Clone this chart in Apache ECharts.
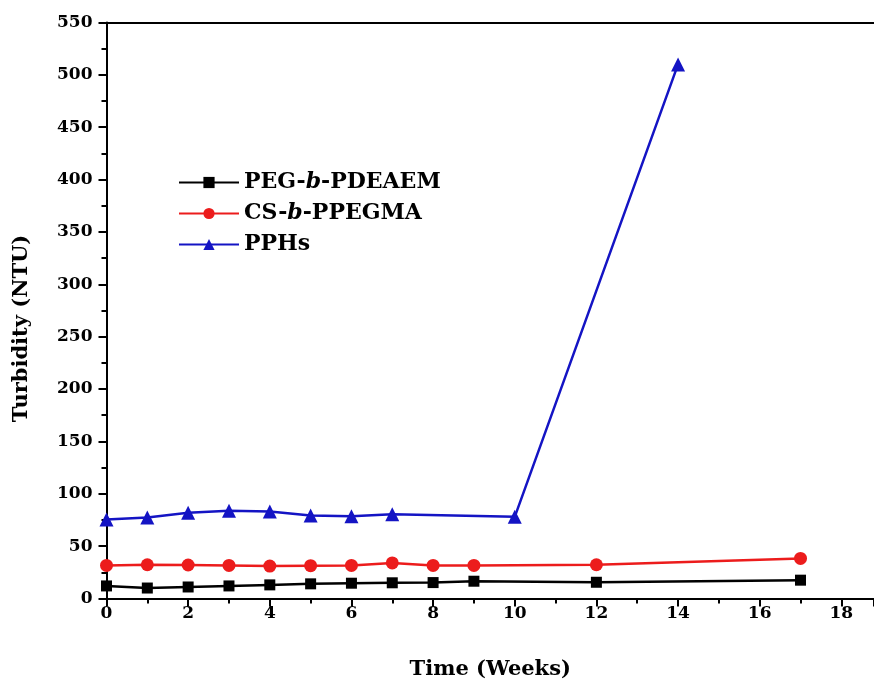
<!DOCTYPE html>
<html>
<head>
<meta charset="utf-8">
<script src="https://cdn.jsdelivr.net/npm/echarts@6/dist/echarts.min.js"></script>
<style>
  html, body { margin: 0; padding: 0; background: #fff; }
  #chart { width: 874px; height: 683px; }
</style>
</head>
<body>
<div id="chart"></div>
<script>
// Turbidity of three polymer formulations over storage time
const pegWeeks = [0, 1, 2, 3, 4, 5, 6, 7, 8, 9, 12, 17];
const pegTurbidity = [12, 10, 11, 12, 13, 14, 14.6, 15, 15.2, 16.5, 15.5, 17.5];

const csWeeks = [0, 1, 2, 3, 4, 5, 6, 7, 8, 9, 12, 17];
const csTurbidity = [31.6, 32.2, 32, 31.6, 31, 31.3, 31.6, 34, 31.6, 31.6, 32.2, 38.3];

const pphWeeks = [0, 1, 2, 3, 4, 5, 6, 7, 10, 14];
const pphTurbidity = [75.5, 77.4, 81.8, 83.7, 83, 79.3, 78.6, 80.5, 78, 510];

const seriesNames = ['PEG-b-PDEAEM', 'CS-b-PPEGMA', 'PPHs'];
const legendLabels = ['PEG-{i|b}-PDEAEM', 'CS-{i|b}-PPEGMA', 'PPHs'];
const xTitle = 'Time (Weeks)';
const yTitle = 'Turbidity (NTU)';

const FONT = 'DejaVu Serif';

function pairs(xs, ys) {
  return xs.map((x, i) => [x, ys[i]]);
}

const chart = echarts.init(document.getElementById('chart'));

const axisCommon = {
  axisLine: { show: true, onZero: false, lineStyle: { color: '#000', width: 2 } },
  axisTick: { show: true, inside: false, length: 8, lineStyle: { color: '#000', width: 2 } },
  minorTick: { show: true, splitNumber: 2, length: 5, lineStyle: { color: '#000', width: 2 } },
  splitLine: { show: false },
  minorSplitLine: { show: false },
  axisLabel: { color: '#000', fontFamily: FONT, fontWeight: 'bold', fontSize: 17 }
};

chart.setOption({
  animation: false,
  backgroundColor: '#fff',
  grid: {
    left: 106.5, right: 0, top: 22.5, bottom: 84.5,
    containLabel: false,
    outerBoundsMode: 'none'
  },
  legend: {
    orient: 'vertical',
    left: 178,
    top: 171,
    padding: 0,
    itemWidth: 60,
    itemHeight: 14,
    itemGap: 8,
    data: seriesNames,
    formatter: function (name) {
      return legendLabels[seriesNames.indexOf(name)];
    },
    textStyle: {
      color: '#000',
      fontFamily: FONT,
      fontWeight: 'bold',
      fontSize: 22,
      lineHeight: 23,
      rich: {
        i: { fontFamily: FONT, fontWeight: 'bold', fontStyle: 'italic', fontSize: 22, color: '#000' }
      }
    }
  },
  xAxis: [
    Object.assign({}, axisCommon, {
      type: 'value',
      min: 0,
      max: 18.8,
      interval: 2,
      name: xTitle,
      nameLocation: 'middle',
      nameGap: 61,
      nameTextStyle: { color: '#000', fontFamily: FONT, fontWeight: 'bold', fontSize: 21 },
      axisLabel: Object.assign({}, axisCommon.axisLabel, { margin: 7, showMaxLabel: false })
    }),
    {
      type: 'value',
      position: 'top',
      min: 0,
      max: 18.8,
      axisLine: { show: true, onZero: false, lineStyle: { color: '#000', width: 2 } },
      axisTick: { show: false },
      axisLabel: { show: false },
      splitLine: { show: false }
    }
  ],
  yAxis: Object.assign({}, axisCommon, {
    type: 'value',
    min: 0,
    max: 550,
    interval: 50,
    name: yTitle,
    nameLocation: 'middle',
    nameGap: 74,
    nameTextStyle: {
      color: '#000', fontFamily: FONT, fontWeight: 'bold', fontSize: 21,
      padding: [0, 36, 0, 0]
    },
    axisLabel: Object.assign({}, axisCommon.axisLabel, { margin: 14 })
  }),
  series: [
    {
      name: seriesNames[0],
      type: 'line',
      data: pairs(pegWeeks, pegTurbidity),
      symbol: 'rect',
      symbolSize: 11,
      itemStyle: { color: '#000' },
      lineStyle: { color: '#000', width: 2.5 },
      z: 3
    },
    {
      name: seriesNames[1],
      type: 'line',
      data: pairs(csWeeks, csTurbidity),
      symbol: 'circle',
      symbolSize: 13,
      itemStyle: { color: '#ec1c1c' },
      lineStyle: { color: '#ec1c1c', width: 2.5 },
      z: 3
    },
    {
      name: seriesNames[2],
      type: 'line',
      data: pairs(pphWeeks, pphTurbidity),
      symbol: 'triangle',
      symbolSize: 14,
      itemStyle: { color: '#1414c4' },
      lineStyle: { color: '#1414c4', width: 2.5 },
      z: 3
    }
  ]
});
</script>
</body>
</html>
